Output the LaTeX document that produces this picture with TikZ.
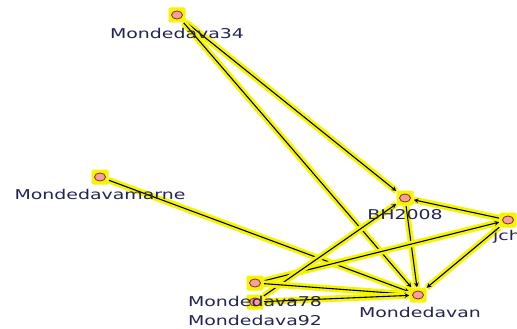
\documentclass[tikz,border=0pt]{standalone}
\usepackage{fontspec}
\usepackage{xcolor}
\usepackage{tikz}
\usetikzlibrary{arrows,backgrounds}
\newfontfamily\lblfont[FakeStretch=1.4]{DejaVu Sans}
\definecolor{hilite}{RGB}{245,245,0}
\definecolor{vtxfill}{RGB}{244,160,160}
\definecolor{vtxedge}{RGB}{140,40,40}
\definecolor{lbltext}{RGB}{35,35,85}
\tikzset{
  vtx/.style={
    rectangle,rounded corners=2pt,fill=hilite,minimum width=17pt,minimum height=15pt,inner sep=0pt,
    path picture={\draw[draw=vtxedge,fill=vtxfill,line width=0.8pt] (path picture bounding box.center) ellipse (5.5pt and 4pt);},
  },
}
\tikzset{
  lbl/.style={
    font=\lblfont\fontsize{13.5pt}{15pt}\selectfont,text=lbltext,inner sep=0pt,
  },
}

\begin{document}
\begin{tikzpicture}[x=1pt,y=-1pt]
		\tikzstyle{link}=[->,>=stealth,draw=black,line width=1.1pt,preaction={draw=hilite,line width=6.5pt,-}]
		\useasboundingbox (0,0) rectangle (517,329);

		\node[vtx] (m34)   at (177,15) {};
		\node[vtx] (marne) at (100,177) {};
		\node[vtx] (bh)    at (405,198) {};
		\node[vtx] (jch)   at (508,220) {};
		\node[vtx] (m78)   at (255,283) {};
		\node[vtx] (m92)   at (255,302) {};
		\node[vtx] (mvan)  at (418,295) {};

		\node[lbl] (l34)   at (177,33) {Mondedava34};
		\node[lbl] (lmarne) at (100,194) {Mondedavamarne};
		\node[lbl] (lbh)   at (405,215) {BH2008};
		\node[lbl,anchor=west] (ljch) at (493,237) {jch};
		\node[lbl] (l78)   at (255,301) {Mondedava78};
		\node[lbl] (l92)   at (255,320) {Mondedava92};
		\node[lbl] (lvan)  at (420,312) {Mondedavan};

		\begin{scope}[on background layer]
		\draw[link] (m34) -- (bh);
		\draw[link] (m34) -- (mvan);
		\draw[link] (marne) -- (mvan);
		\draw[link] (bh) -- (mvan);
		\draw[link] (jch) -- (bh);
		\draw[link] (jch) -- (mvan);
		\draw[link] (m78) -- (jch);
		\draw[link] (m92) -- (bh);
		\draw[link] (m78) -- (mvan);
		\draw[link] (m92) -- (mvan);
		\end{scope}

	\end{tikzpicture}
\end{document}
